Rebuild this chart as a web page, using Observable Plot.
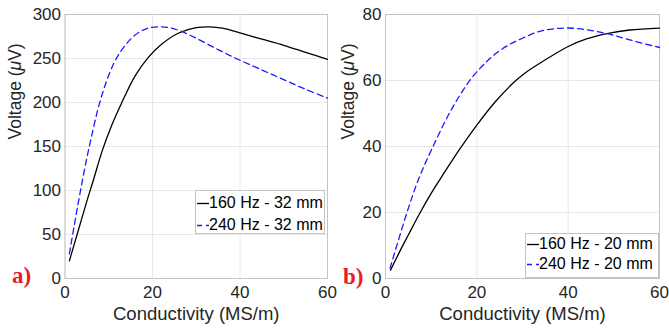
<!DOCTYPE html>
<html><head><meta charset="utf-8">
<script src="https://cdn.jsdelivr.net/npm/d3@7"></script>
<script src="https://cdn.jsdelivr.net/npm/@observablehq/plot@0.6"></script>
<style>
body{margin:0;background:#fff;}
#wrap{position:relative;width:669px;height:335px;overflow:hidden;font-family:"Liberation Sans",Arial,sans-serif;background:#fff;}
.panel{position:absolute;top:0;}
.legend{position:absolute;background:#fff;border:1px solid #c4c4c4;box-sizing:border-box;font-size:16px;color:#000;}
.row{position:absolute;left:0;display:flex;align-items:center;height:20px;white-space:nowrap;}
.row svg{display:block;margin-left:1px;margin-right:0px;}
.tag{position:absolute;font:bold 23px "Liberation Serif",serif;color:#e41e26;line-height:1;}
</style>
</head><body>
<div id="wrap"></div>
<script>
// ---------- data ----------
const xTicks = [0, 20, 40, 60];
const yTicksA = [0, 50, 100, 150, 200, 250, 300];
const yTicksB = [0, 20, 40, 60, 80];
const xLabel = "Conductivity (MS/m)";
const yLabel = "Voltage (μV)";
const seriesA = ["160 Hz - 32 mm", "240 Hz - 32 mm"];
const seriesB = ["160 Hz - 20 mm", "240 Hz - 20 mm"];
const panelTags = ["a)", "b)"];

// panel a) 160 Hz - 32 mm
const sigmaA160 = [1, 3, 5, 6.5, 8.5, 10.5, 13, 16, 19, 22, 26, 30, 33, 36, 40, 45, 50, 55, 60];
const voltA160 = [20, 54, 88, 112, 145, 172, 200, 230, 251, 266, 279, 285, 286, 284.5, 279, 272, 265, 257, 249];
// panel a) 240 Hz - 32 mm
const sigmaA240 = [1, 2, 3, 4, 5, 6, 7.5, 9, 11, 13, 15, 17, 19, 21.5, 24, 26.5, 30, 35, 40, 45, 50, 55, 60];
const voltA240 = [28, 57, 85, 112, 137, 160, 192, 217, 243, 260, 272, 280, 284.5, 286, 285, 281, 273, 260, 248, 237, 226, 215, 205];
// panel b) 160 Hz - 20 mm
const sigmaB160 = [1.1, 3.6, 5, 7.6, 10, 12, 14, 16.4, 20, 24, 28, 30.5, 34, 40, 44, 48.8, 53.5, 60];
const voltB160 = [2.5, 9.5, 13.2, 20, 25.8, 30.2, 34.5, 39.5, 46.5, 53.5, 59.3, 62.2, 65.4, 70.3, 72.6, 74.3, 75.3, 75.9];
// panel b) 240 Hz - 20 mm
const sigmaB240 = [1, 4.7, 7.3, 10.2, 14.2, 18.6, 22, 24, 27, 30, 33.8, 39, 44, 48.8, 53.5, 60];
const voltB240 = [3.1, 20, 30.3, 39.4, 50.6, 60.3, 65.5, 68, 70.8, 72.8, 74.9, 75.9, 75.4, 74.1, 72.3, 70.0];

// ---------- drawing ----------
const wrap = document.getElementById("wrap");

function makePanel(o) {
  const d1 = o.xs1.map((x, i) => ({x, y: o.ys1[i]}));
  const d2 = o.xs2.map((x, i) => ({x, y: o.ys2[i]}));
  const svg = Plot.plot({
    width: o.width, height: 335,
    marginTop: o.marginTop, marginBottom: o.marginBottom,
    marginLeft: o.marginLeft, marginRight: o.marginRight,
    style: {fontFamily: "'Liberation Sans', Arial, sans-serif", fontSize: "17px", color: "#262626", background: "transparent", overflow: "visible"},
    x: {domain: [0, 60]},
    y: {domain: [o.yTicks[0], o.yTicks[o.yTicks.length - 1]]},
    marks: [
      Plot.gridX(xTicks, {stroke: "#e8e8e8", strokeOpacity: 1}),
      Plot.gridY(o.yTicks, {stroke: "#e8e8e8", strokeOpacity: 1}),
      Plot.axisX(xTicks, {tickSize: 0, tickPadding: 7, label: null, fontSize: 17}),
      Plot.axisY(o.yTicks, {tickSize: 0, tickPadding: 4, label: null, fontSize: 17}),
      Plot.frame({stroke: "#c4c4c4"}),
      Plot.line(d1, {x: "x", y: "y", stroke: "#000", strokeWidth: 1.3, curve: "catmull-rom"}),
      Plot.line(d2, {x: "x", y: "y", stroke: "#1a1aff", strokeWidth: 1.3, strokeDasharray: "6,4", curve: "catmull-rom"}),
      Plot.text([xLabel], {text: d => d, frameAnchor: "bottom", dy: 41, fontSize: 18.5}),
      Plot.text([yLabel], {text: d => d, frameAnchor: "left", rotate: -90, dx: o.yLabelDx, dy: -7, fontSize: 17.5})
    ]
  });
  svg.classList.add("panel");
  svg.style.left = o.left + "px";
  // italic mu in y label
  svg.querySelectorAll("text").forEach(t => {
    if (t.textContent === yLabel) {
      const parts = yLabel.split("μ");
      t.textContent = "";
      const ns = "http://www.w3.org/2000/svg";
      const a = document.createElementNS(ns, "tspan"); a.textContent = parts[0];
      const m = document.createElementNS(ns, "tspan"); m.textContent = "μ"; m.setAttribute("font-style", "italic");
      const b = document.createElementNS(ns, "tspan"); b.textContent = parts[1];
      t.append(a, m, b);
    }
  });
  wrap.appendChild(svg);
}

function makeLegend(names, box) {
  const lg = document.createElement("div");
  lg.className = "legend";
  Object.assign(lg.style, {left: box.left + "px", top: box.top + "px", width: box.width + "px", height: box.height + "px"});
  names.forEach((name, i) => {
    const row = document.createElement("div");
    row.className = "row";
    row.style.top = (box.rowTops[i]) + "px";
    const s = document.createElementNS("http://www.w3.org/2000/svg", "svg");
    s.setAttribute("width", 12); s.setAttribute("height", 20);
    const l = document.createElementNS("http://www.w3.org/2000/svg", "line");
    l.setAttribute("x1", 0); l.setAttribute("x2", 12); l.setAttribute("y1", 10.5); l.setAttribute("y2", 10.5);
    l.setAttribute("stroke", i === 0 ? "#000" : "#1a1aff");
    l.setAttribute("stroke-width", 1.3);
    if (i === 1) l.setAttribute("stroke-dasharray", "5,4");
    s.appendChild(l);
    const t = document.createElement("span");
    t.textContent = name;
    row.append(s, t);
    lg.appendChild(row);
  });
  wrap.appendChild(lg);
}

function makeTag(text, left, top) {
  const d = document.createElement("div");
  d.className = "tag";
  d.textContent = text;
  d.style.left = left + "px";
  d.style.top = top + "px";
  wrap.appendChild(d);
}

makePanel({xs1: sigmaA160, ys1: voltA160, xs2: sigmaA240, ys2: voltA240, yTicks: yTicksA,
  left: 0, width: 334, marginTop: 14, marginBottom: 57, marginLeft: 64.5, marginRight: 7, yLabelDx: -50});
makePanel({xs1: sigmaB160, ys1: voltB160, xs2: sigmaB240, ys2: voltB240, yTicks: yTicksB,
  left: 334, width: 335, marginTop: 14, marginBottom: 57, marginLeft: 51, marginRight: 10, yLabelDx: -37});

makeLegend(seriesA, {left: 195, top: 190, width: 130, height: 44, rowTops: [2, 24]});
makeLegend(seriesB, {left: 525, top: 233, width: 134, height: 45, rowTops: [0, 19.5]});

makeTag(panelTags[0], 12, 264);
makeTag(panelTags[1], 343, 265);
</script>
</body></html>
